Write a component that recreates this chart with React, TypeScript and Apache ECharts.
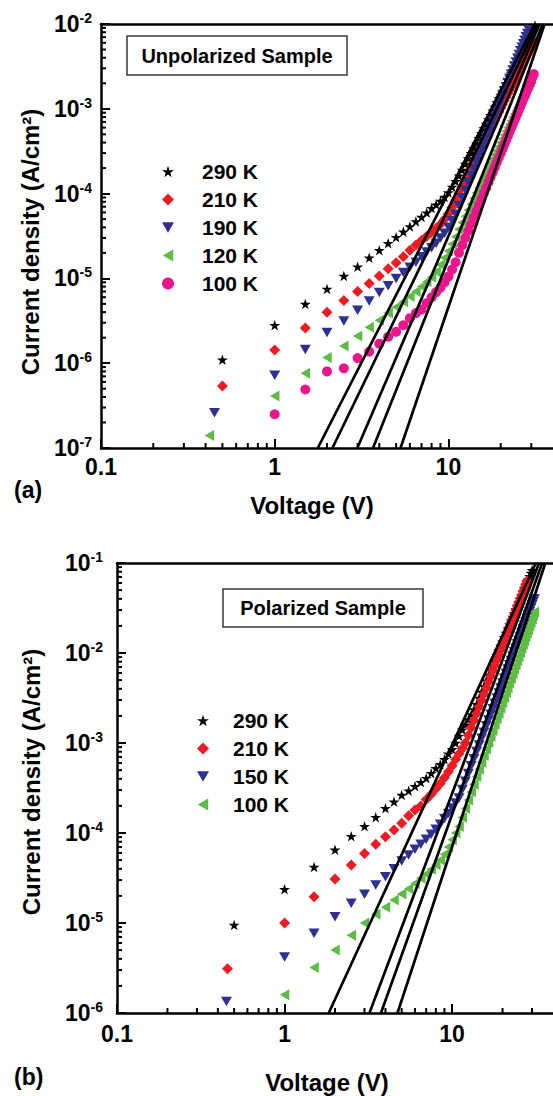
import React, { useEffect, useRef } from 'react';
import * as echarts from 'echarts';

const FONT = '"Liberation Sans", Arial, Helvetica, sans-serif';
const STAR = 'path://M50,2L61.2,36.6L97.6,36.6L68.2,58L79.4,92.6L50,71.2L20.6,92.6L31.8,58L2.4,36.6L38.8,36.6Z';
const TRI_DOWN = 'path://M0,0L11,0L5.5,9.5Z';
const TRI_LEFT = 'path://M9.5,0L9.5,11L0,5.5Z';

const C_BLACK = '#000000';
const C_RED = '#ED1C24';
const C_BLUE = '#2E3192';
const C_GREEN = '#5DBB46';
const C_PINK = '#EC168C';

// Voltage grid of the measurements (V), from 1 V upward
const VOLT = [1, 1.5, 2, 2.5, 3, 3.5, 4, 4.5, 5, 5.5, 6, 6.5, 7, 7.5, 8, 8.5, 9, 9.5, 10, 10.5, 11, 11.5, 12, 12.5, 13, 13.5, 14, 14.5, 15, 15.5, 16, 16.5, 17, 17.5, 18, 18.5, 19, 19.5, 20, 20.5, 21, 21.5, 22, 22.5, 23, 23.5, 24, 24.5, 25, 25.5, 26, 26.5, 27, 27.5, 28, 28.5, 29, 29.5, 30, 30.5, 31, 31.5];

// ---------- (a) Unpolarized sample ----------
const NAMES_A = ['290 K', '210 K', '190 K', '120 K', '100 K'];
const LOW_V_A = [0.5, 0.5, 0.45, 0.42];
const LOW_J_A = [1.1e-6, 5.4e-7, 2.6e-7, 1.4e-7];
const J290A = [2.8e-6, 5.0e-6, 7.5e-6, 1.07e-5, 1.37e-5, 1.75e-5, 2.15e-5, 2.6e-5, 3.05e-5, 3.55e-5, 4.1e-5, 4.7e-5, 5.3e-5, 5.95e-5, 6.7e-5, 7.4e-5, 8.2e-5, 9.1e-5, 1.03e-4, 1.2e-4, 1.4e-4, 1.62e-4, 1.9e-4, 2.24e-4, 2.6e-4, 3.0e-4, 3.4e-4, 3.9e-4, 4.5e-4, 5.1e-4, 5.85e-4, 6.6e-4, 7.5e-4, 8.4e-4, 9.5e-4, 1.06e-3, 1.19e-3, 1.32e-3, 1.46e-3, 1.62e-3, 1.79e-3, 1.97e-3, 2.16e-3, 2.37e-3, 2.6e-3, 2.84e-3, 3.09e-3, 3.37e-3, 3.66e-3, 3.96e-3, 4.3e-3, 4.65e-3, 5.0e-3, 5.4e-3, 5.8e-3, 6.25e-3, 6.7e-3, 7.2e-3, 7.7e-3, 8.3e-3, 8.9e-3, 9.6e-3];
const J210A = [1.43e-6, 2.6e-6, 4.0e-6, 5.5e-6, 7.0e-6, 8.7e-6, 1.07e-5, 1.3e-5, 1.53e-5, 1.8e-5, 2.15e-5, 2.48e-5, 2.8e-5, 3.15e-5, 3.5e-5, 3.9e-5, 4.35e-5, 5.0e-5, 5.8e-5, 6.9e-5, 8.3e-5, 1.0e-4, 1.2e-4, 1.4e-4, 1.65e-4, 1.95e-4, 2.34e-4, 2.71e-4, 3.12e-4, 3.57e-4, 4.06e-4, 4.61e-4, 5.21e-4, 5.87e-4, 6.6e-4, 7.4e-4, 8.26e-4, 9.18e-4, 1.02e-3, 1.13e-3, 1.25e-3, 1.37e-3, 1.51e-3, 1.66e-3, 1.81e-3, 1.98e-3, 2.16e-3, 2.35e-3, 2.55e-3, 2.77e-3, 3.0e-3, 3.25e-3, 3.51e-3, 3.78e-3, 4.07e-3, 4.38e-3, 4.71e-3, 5.05e-3, 5.41e-3, 5.8e-3, 6.2e-3];
const J190A = [7.2e-7, 1.45e-6, 2.3e-6, 3.15e-6, 4.2e-6, 5.4e-6, 6.8e-6, 8.2e-6, 1.0e-5, 1.17e-5, 1.35e-5, 1.55e-5, 1.8e-5, 2.05e-5, 2.3e-5, 2.6e-5, 3.0e-5, 3.4e-5, 4.0e-5, 4.8e-5, 5.7e-5, 7.2e-5, 8.9e-5, 1.1e-4, 1.35e-4, 1.64e-4, 1.98e-4, 2.37e-4, 2.82e-4, 3.34e-4, 3.94e-4, 4.62e-4, 5.38e-4, 6.25e-4, 7.24e-4, 8.34e-4, 9.57e-4, 1.09e-3, 1.25e-3, 1.42e-3, 1.6e-3, 1.81e-3, 2.04e-3, 2.29e-3, 2.56e-3, 2.86e-3, 3.19e-3, 3.56e-3, 3.95e-3, 4.37e-3, 4.83e-3, 5.32e-3, 5.86e-3, 6.44e-3, 7.08e-3, 7.74e-3, 8.47e-3];
const J120A = [4.1e-7, 7.6e-7, 1.17e-6, 1.6e-6, 2.1e-6, 2.65e-6, 3.2e-6, 3.9e-6, 4.6e-6, 5.3e-6, 6.1e-6, 7.0e-6, 8.0e-6, 9.1e-6, 1.03e-5, 1.2e-5, 1.45e-5, 1.75e-5, 2.1e-5, 2.55e-5, 3.1e-5, 3.8e-5, 4.56e-5, 5.42e-5, 6.4e-5, 7.5e-5, 8.8e-5, 1.02e-4, 1.17e-4, 1.35e-4, 1.55e-4, 1.76e-4, 2.0e-4, 2.26e-4, 2.55e-4, 2.87e-4, 3.21e-4, 3.59e-4, 3.99e-4, 4.44e-4, 4.91e-4, 5.43e-4, 5.98e-4, 6.59e-4, 7.23e-4, 7.93e-4, 8.67e-4, 9.46e-4, 1.03e-3, 1.12e-3, 1.22e-3, 1.32e-3, 1.43e-3, 1.55e-3, 1.67e-3, 1.8e-3, 1.94e-3, 2.08e-3, 2.24e-3];
const J100A = [2.5e-7, 4.9e-7, 8.0e-7, 8.7e-7, 1.15e-6, 1.37e-6, 1.7e-6, 2.05e-6, 2.35e-6, 2.8e-6, 3.4e-6, 3.9e-6, 4.3e-6, 5.1e-6, 6.0e-6, 6.9e-6, 7.8e-6, 9.0e-6, 1.05e-5, 1.27e-5, 1.55e-5, 2.0e-5, 2.46e-5, 3.0e-5, 3.64e-5, 4.38e-5, 5.22e-5, 6.21e-5, 7.33e-5, 8.61e-5, 1.01e-4, 1.17e-4, 1.36e-4, 1.56e-4, 1.79e-4, 2.05e-4, 2.34e-4, 2.65e-4, 3.0e-4, 3.39e-4, 3.81e-4, 4.28e-4, 4.79e-4, 5.35e-4, 5.96e-4, 6.62e-4, 7.35e-4, 8.13e-4, 8.95e-4, 9.86e-4, 1.09e-3, 1.19e-3, 1.31e-3, 1.43e-3, 1.56e-3, 1.7e-3, 1.85e-3, 2.02e-3, 2.19e-3, 2.38e-3, 2.57e-3];
// fitted straight lines: voltage where each line meets J = 1e-7 and J = 1e-2
const FIT_A_LOW = [1.77, 2.15, 2.99, 3.68, 5.3];
const FIT_A_HIGH = [31.4, 32.7, 33.5, 34.9, 35.8];

// ---------- (b) Polarized sample ----------
const NAMES_B = ['290 K', '210 K', '150 K', '100 K'];
const LOW_V_B = [0.5, 0.456, 0.45];
const LOW_J_B = [9.5e-6, 3.1e-6, 1.34e-6];
const J290B = [2.37e-5, 4.2e-5, 6.5e-5, 9.2e-5, 1.19e-4, 1.5e-4, 1.88e-4, 2.23e-4, 2.64e-4, 2.95e-4, 3.3e-4, 3.67e-4, 4.07e-4, 4.62e-4, 5.25e-4, 5.8e-4, 6.6e-4, 7.6e-4, 8.5e-4, 1.0e-3, 1.2e-3, 1.4e-3, 1.6e-3, 1.83e-3, 2.08e-3, 2.35e-3, 2.7e-3, 3.16e-3, 3.68e-3, 4.27e-3, 4.92e-3, 5.65e-3, 6.46e-3, 7.36e-3, 8.36e-3, 9.46e-3, 1.07e-2, 1.2e-2, 1.34e-2, 1.5e-2, 1.67e-2, 1.86e-2, 2.06e-2, 2.28e-2, 2.52e-2, 2.77e-2, 3.05e-2, 3.35e-2, 3.66e-2, 4.01e-2, 4.38e-2, 4.76e-2, 5.19e-2, 5.62e-2, 6.11e-2, 6.61e-2, 7.14e-2, 7.73e-2, 8.32e-2];
const J210B = [1.0e-5, 1.96e-5, 3.08e-5, 4.41e-5, 5.9e-5, 7.5e-5, 9.1e-5, 1.08e-4, 1.28e-4, 1.55e-4, 1.8e-4, 2.0e-4, 2.35e-4, 2.7e-4, 3.1e-4, 3.55e-4, 4.1e-4, 4.8e-4, 5.6e-4, 6.6e-4, 7.6e-4, 8.7e-4, 1.0e-3, 1.22e-3, 1.48e-3, 1.78e-3, 2.13e-3, 2.53e-3, 2.99e-3, 3.5e-3, 4.09e-3, 4.76e-3, 5.51e-3, 6.35e-3, 7.3e-3, 8.34e-3, 9.5e-3, 1.08e-2, 1.22e-2, 1.38e-2, 1.55e-2, 1.74e-2, 1.95e-2, 2.18e-2, 2.42e-2, 2.69e-2, 2.99e-2, 3.3e-2, 3.65e-2, 4.02e-2, 4.42e-2, 4.85e-2, 5.32e-2, 5.81e-2, 6.34e-2];
const J150B = [4.2e-6, 7.7e-6, 1.17e-5, 1.66e-5, 2.08e-5, 2.64e-5, 3.27e-5, 4.0e-5, 4.9e-5, 5.7e-5, 6.6e-5, 7.5e-5, 8.5e-5, 9.7e-5, 1.1e-4, 1.25e-4, 1.45e-4, 1.65e-4, 1.9e-4, 2.15e-4, 2.45e-4, 3.05e-4, 3.76e-4, 4.59e-4, 5.57e-4, 6.7e-4, 8.02e-4, 9.53e-4, 1.13e-3, 1.32e-3, 1.55e-3, 1.8e-3, 2.08e-3, 2.4e-3, 2.76e-3, 3.16e-3, 3.6e-3, 4.09e-3, 4.63e-3, 5.24e-3, 5.9e-3, 6.62e-3, 7.41e-3, 8.28e-3, 9.23e-3, 1.03e-2, 1.14e-2, 1.26e-2, 1.39e-2, 1.53e-2, 1.69e-2, 1.85e-2, 2.03e-2, 2.22e-2, 2.43e-2, 2.65e-2, 2.88e-2, 3.14e-2, 3.41e-2, 3.7e-2, 4.01e-2];
const J100B = [1.6e-6, 3.2e-6, 5.0e-6, 7.3e-6, 1.0e-5, 1.25e-5, 1.5e-5, 1.8e-5, 2.1e-5, 2.4e-5, 2.75e-5, 3.15e-5, 3.5e-5, 3.95e-5, 4.45e-5, 5.0e-5, 5.8e-5, 7.0e-5, 8.4e-5, 1.0e-4, 1.18e-4, 1.49e-4, 1.87e-4, 2.32e-4, 2.86e-4, 3.49e-4, 4.24e-4, 5.1e-4, 6.11e-4, 7.26e-4, 8.59e-4, 1.01e-3, 1.19e-3, 1.38e-3, 1.61e-3, 1.86e-3, 2.14e-3, 2.45e-3, 2.81e-3, 3.2e-3, 3.63e-3, 4.11e-3, 4.65e-3, 5.24e-3, 5.89e-3, 6.59e-3, 7.38e-3, 8.22e-3, 9.14e-3, 1.02e-2, 1.13e-2, 1.25e-2, 1.38e-2, 1.52e-2, 1.67e-2, 1.83e-2, 2.01e-2, 2.2e-2, 2.4e-2, 2.62e-2, 2.86e-2];
// fitted lines: voltage where each line meets J = 1e-6 and J = 1e-1
const FIT_B_LOW = [1.835, 3.21, 3.76, 4.72];
const FIT_B_HIGH = [31.6, 33, 34.5, 36];

// axis ranges & tick labels
const X_MIN = 0.1, X_MAX = 40;
const YA_MIN = 1e-7, YA_MAX = 1e-2;
const YB_MIN = 1e-6, YB_MAX = 1e-1;
const X_TICK_LABELS = ['0.1', '1', '10'];
const MANTISSA = [2, 3, 4, 5, 6, 7, 8, 9];

function minorTicks(min: number, max: number): number[] {
  const out: number[] = [];
  for (let d = min; d < max * 0.999; d *= 10) {
    for (const m of MANTISSA) {
      const v = m * d;
      if (v < max) out.push(v);
    }
  }
  return out;
}

function pts(low: [number, number] | null, js: number[]) {
  const d = js.map((j, k) => [VOLT[k], j]);
  return low ? [low, ...d] : d;
}

function scatter(name: string, data: any[], symbol: string, size: number, color: string, idx: number) {
  return {
    type: 'scatter', name, data, symbol, symbolSize: size,
    symbolKeepAspect: true,
    xAxisIndex: idx * 2, yAxisIndex: idx,
    itemStyle: { color, opacity: 1 },
    clip: true, z: 3,
  };
}

function fitLines(lo: number[], hi: number[], yMin: number, yMax: number, idx: number) {
  return lo.map((v, i) => ({
    type: 'line', data: [[v, yMin], [hi[i], yMax]], symbol: 'none', silent: true,
    xAxisIndex: idx * 2, yAxisIndex: idx, z: 4,
    lineStyle: { color: '#000', width: 2.7 },
  }));
}

function tickSeries(idx: number, values: number[], axis: 'x' | 'y', xMin: number, yMin: number, len: number) {
  return {
    type: 'custom', xAxisIndex: idx * 2, yAxisIndex: idx, clip: false, silent: true, z: 6,
    data: values.map((v) => (axis === 'x' ? [v, yMin] : [xMin, v])),
    renderItem: (_p: any, api: any) => {
      const p = api.coord([api.value(0), api.value(1)]);
      return {
        type: 'line',
        shape: axis === 'x' ? { x1: p[0], y1: p[1], x2: p[0], y2: p[1] - len } : { x1: p[0], y1: p[1], x2: p[0] + len, y2: p[1] },
        style: { stroke: '#000', lineWidth: 2 },
      };
    },
  };
}

const xLabel = (v: number) => {
  const e = Math.log10(v);
  const r = Math.round(e);
  if (Math.abs(e - r) > 1e-6) return '';
  return X_TICK_LABELS[r + 1] || '';
};
const yLabel = (v: number) => `{b|10}{s|${Math.round(Math.log10(v))}}`;

const richY = {
  b: { fontSize: 23, fontWeight: 'bold', fontFamily: FONT, color: '#000', lineHeight: 26 },
  s: { fontSize: 14, fontWeight: 'bold', fontFamily: FONT, color: '#000', verticalAlign: 'top', lineHeight: 13 },
};

function xAxes(gi: number) {
  return [
    {
      type: 'log', gridIndex: gi, min: X_MIN, max: X_MAX, logBase: 10,
      axisLine: { lineStyle: { color: '#000', width: 2.5 } },
      axisTick: { inside: true, length: 9, lineStyle: { color: '#000', width: 2 } },
      axisLabel: { formatter: xLabel, margin: gi === 0 ? 7 : 9, fontSize: 23, fontWeight: 'bold', fontFamily: FONT, color: '#000', showMaxLabel: false },
      splitLine: { show: false },
    },
    {
      type: 'log', gridIndex: gi, min: X_MIN, max: X_MAX, position: 'top',
      axisLine: { lineStyle: { color: '#000', width: 2.5 } },
      axisTick: { show: false }, axisLabel: { show: false }, splitLine: { show: false },
    },
  ];
}

function yAxis(gi: number, min: number, max: number, margin: number) {
  return {
    type: 'log', gridIndex: gi, min, max, logBase: 10,
    axisLine: { lineStyle: { color: '#000', width: 2.5 } },
    axisTick: { inside: true, length: 9, lineStyle: { color: '#000', width: 2 } },
    axisLabel: { formatter: yLabel, margin, rich: richY },
    splitLine: { show: false },
  };
}

const txt = (x: number, y: number, text: string, size: number, opts: any = {}) => ({
  type: 'text', x, y, z: 20, ...opts,
  style: { text, fontSize: size, fontWeight: 'bold', fontFamily: FONT, fill: '#000', align: opts.align || 'center', verticalAlign: 'middle' },
});

export default function App() {
  const ref = useRef<HTMLDivElement>(null);
  useEffect(() => {
    if (!ref.current) return;
    const chart = echarts.init(ref.current, undefined, { renderer: 'svg' });
    const symA = [[STAR, 11, C_BLACK], ['diamond', 11, C_RED], [TRI_DOWN, 11, C_BLUE], [TRI_LEFT, 11, C_GREEN], ['circle', 10, C_PINK]];
    const dataA = [
      pts([LOW_V_A[0], LOW_J_A[0]], J290A),
      pts([LOW_V_A[1], LOW_J_A[1]], J210A),
      pts([LOW_V_A[2], LOW_J_A[2]], J190A),
      pts([LOW_V_A[3], LOW_J_A[3]], J120A),
      pts(null, J100A),
    ];
    const symB = [[STAR, 11, C_BLACK], ['diamond', 11, C_RED], [TRI_DOWN, 11, C_BLUE], [TRI_LEFT, 11, C_GREEN]];
    const dataB = [
      pts([LOW_V_B[0], LOW_J_B[0]], J290B),
      pts([LOW_V_B[1], LOW_J_B[1]], J210B),
      pts([LOW_V_B[2], LOW_J_B[2]], J150B),
      pts(null, J100B),
    ];
    const seriesA = NAMES_A.map((n, i) => scatter('a|' + n, dataA[i], symA[i][0] as string, symA[i][1] as number, symA[i][2] as string, 0));
    const seriesB = NAMES_B.map((n, i) => scatter('b|' + n, dataB[i], symB[i][0] as string, symB[i][1] as number, symB[i][2] as string, 1));

    const legendText = (pad: number) => ({ fontSize: 21, fontWeight: 'bold', fontFamily: FONT, color: '#000', lineHeight: 20, padding: [0, 0, 0, pad] });
    chart.setOption({
      animation: false,
      backgroundColor: '#fff',
      grid: [
        { left: 101, top: 24, width: 455, height: 424 },
        { left: 117, top: 563, width: 437, height: 450 },
      ],
      xAxis: [...xAxes(0), ...xAxes(1)],
      yAxis: [yAxis(0, YA_MIN, YA_MAX, 9), yAxis(1, YB_MIN, YB_MAX, 14)],
      legend: [
        {
          data: NAMES_A.map((n, i) => ({ name: 'a|' + n, icon: symA[i][0] })), orient: 'vertical', left: 157, top: 156,
          itemWidth: 12, itemHeight: 12, itemGap: 7, selectedMode: false,
          formatter: (n: string) => n.split('|')[1], textStyle: legendText(23),
        },
        {
          data: NAMES_B.map((n, i) => ({ name: 'b|' + n, icon: symB[i][0] })), orient: 'vertical', left: 192, top: 705,
          itemWidth: 12, itemHeight: 12, itemGap: 7, selectedMode: false,
          formatter: (n: string) => n.split('|')[1], textStyle: legendText(19),
        },
      ],
      graphic: [
        { type: 'rect', z: 19, shape: { x: 127, y: 36, width: 220, height: 39 }, style: { fill: '#fff', stroke: '#3a3a3a', lineWidth: 1.5 } },
        txt(237, 56, 'Unpolarized Sample', 20),
        { type: 'rect', z: 19, shape: { x: 223, y: 589, width: 200, height: 38 }, style: { fill: '#fff', stroke: '#3a3a3a', lineWidth: 1.5 } },
        txt(323, 608, 'Polarized Sample', 20),
        txt(30, 242, 'Current density (A/cm²)', 24, { rotation: Math.PI / 2 }),
        txt(31, 782, 'Current density (A/cm²)', 24, { rotation: Math.PI / 2 }),
        txt(312, 505, 'Voltage (V)', 24),
        txt(327, 1082, 'Voltage (V)', 24),
        txt(14, 490, '(a)', 23, { align: 'left' }),
        txt(14, 1077, '(b)', 23, { align: 'left' }),
      ],
      series: [
        ...seriesA,
        ...fitLines(FIT_A_LOW, FIT_A_HIGH, YA_MIN, YA_MAX, 0),
        tickSeries(0, minorTicks(X_MIN, X_MAX), 'x', X_MIN, YA_MIN, 5),
        tickSeries(0, minorTicks(YA_MIN, YA_MAX), 'y', X_MIN, YA_MIN, 5),
        ...seriesB,
        ...fitLines(FIT_B_LOW, FIT_B_HIGH, YB_MIN, YB_MAX, 1),
        tickSeries(1, minorTicks(X_MIN, X_MAX), 'x', X_MIN, YB_MIN, 5),
        tickSeries(1, minorTicks(YB_MIN, YB_MAX), 'y', X_MIN, YB_MIN, 5),
      ],
    });
    return () => chart.dispose();
  }, []);
  return <div ref={ref} style={{ position: 'absolute', left: 0, top: 0, width: 553, height: 1096, background: '#fff' }} />;
}
